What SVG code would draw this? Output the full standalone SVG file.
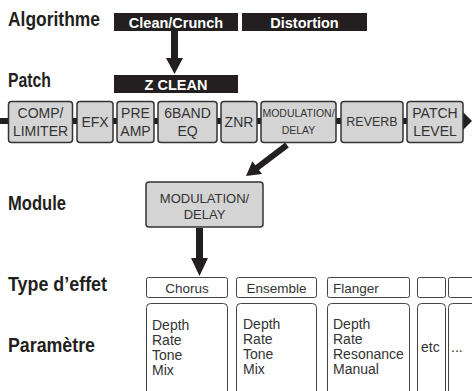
<svg xmlns="http://www.w3.org/2000/svg" width="472" height="391" viewBox="0 0 472 391">
<style>
.lbl{font-family:"Liberation Sans",Arial,sans-serif;font-weight:bold;font-size:19.5px;fill:#231f20}
.bar{fill:#231f20}
.bart{font-family:"Liberation Sans",Arial,sans-serif;font-weight:bold;font-size:14.5px;fill:#fff;text-anchor:middle}
.mod{fill:#d4d4d4;stroke:#333;stroke-width:1.5}
.mt{font-family:"Liberation Sans",Arial,sans-serif;font-size:14px;fill:#333;text-anchor:middle}
.ms{font-size:10.5px}
.tb{fill:#fff;stroke:#444;stroke-width:1}
.tt{font-family:"Liberation Sans",Arial,sans-serif;font-size:13.5px;fill:#333}
.pt{font-family:"Liberation Sans",Arial,sans-serif;font-size:14px;fill:#333}
.arr{fill:#231f20}
</style>
<rect width="472" height="391" fill="#fff"/>
<g id="labels">
<text class="lbl" x="8" y="26" textLength="92" lengthAdjust="spacingAndGlyphs">Algorithme</text>
<text class="lbl" x="8" y="87" textLength="43" lengthAdjust="spacingAndGlyphs">Patch</text>
<text class="lbl" x="8" y="210" textLength="58" lengthAdjust="spacingAndGlyphs">Module</text>
<text class="lbl" x="8" y="291" textLength="99" lengthAdjust="spacingAndGlyphs">Type d’effet</text>
<text class="lbl" x="8" y="352" textLength="87" lengthAdjust="spacingAndGlyphs">Paramètre</text>
</g>
<g id="connectors">
<rect x="0" y="118" width="465" height="6" class="arr"/>
<polygon class="arr" points="463,112 472,121 463,130"/>
<path class="arr" d="M171,31 H178 V58 H183 L174.5,74 L166,58 H171 Z"/>
<polygon class="arr" points="288.8,147.4 259,170 262,174 246,176 252.4,161.2 255.4,165.2 285.2,142.6"/>
<path class="arr" d="M196,228 H203 V258 H208 L199.5,276 L191,258 H196 Z"/>
</g>
<g id="algo-clean">
<rect class="bar" x="114" y="13" width="124" height="18"/>
<text class="bart" x="176" y="27.5">Clean/Crunch</text>
</g>
<g id="algo-dist">
<rect class="bar" x="242" y="13" width="125" height="18"/>
<text class="bart" x="304.5" y="27.5">Distortion</text>
</g>
<g id="patch-zclean">
<rect class="bar" x="114" y="75" width="124" height="18"/>
<text class="bart" x="176" y="89.5">Z CLEAN</text>
</g>
<g id="m-comp">
<rect class="mod" x="8.5" y="101.5" width="64" height="41" rx="3"/>
<text class="mt" x="40.5" y="118">COMP/</text>
<text class="mt" x="40.5" y="136">LIMITER</text>
</g>
<g id="m-efx">
<rect class="mod" x="77" y="101.5" width="36" height="41" rx="3"/>
<text class="mt" x="95" y="127">EFX</text>
</g>
<g id="m-preamp">
<rect class="mod" x="117" y="101.5" width="37" height="41" rx="3"/>
<text class="mt" x="135.5" y="118">PRE</text>
<text class="mt" x="135.5" y="136">AMP</text>
</g>
<g id="m-eq">
<rect class="mod" x="158" y="101.5" width="59" height="41" rx="3"/>
<text class="mt" x="187.5" y="118">6BAND</text>
<text class="mt" x="187.5" y="136">EQ</text>
</g>
<g id="m-znr">
<rect class="mod" x="221" y="101.5" width="36" height="41" rx="3"/>
<text class="mt" x="239" y="127">ZNR</text>
</g>
<g id="m-mod">
<rect class="mod" x="261" y="101.5" width="75" height="41" rx="3"/>
<text class="mt ms" x="298.5" y="117">MODULATION/</text>
<text class="mt ms" x="298.5" y="134">DELAY</text>
</g>
<g id="m-reverb">
<rect class="mod" x="341" y="101.5" width="62" height="41" rx="3"/>
<text class="mt" x="372" y="126" style="font-size:12.5px">REVERB</text>
</g>
<g id="m-level">
<rect class="mod" x="407" y="101.5" width="56" height="41" rx="3"/>
<text class="mt" x="435" y="118">PATCH</text>
<text class="mt" x="435" y="136">LEVEL</text>
</g>
<g id="module-mod">
<rect class="mod" x="146" y="182" width="117" height="45" rx="3"/>
<text class="mt" x="204.5" y="203" style="font-size:13px">MODULATION/</text>
<text class="mt" x="204.5" y="219" style="font-size:13px">DELAY</text>
</g>
<g id="t-chorus">
<rect class="tb" x="146.5" y="277.5" width="81" height="20" rx="2"/>
<text class="tt" x="187" y="293" text-anchor="middle">Chorus</text>
</g>
<g id="t-ensemble">
<rect class="tb" x="236.5" y="277.5" width="80" height="20" rx="2"/>
<text class="tt" x="276.5" y="293" text-anchor="middle">Ensemble</text>
</g>
<g id="t-flanger">
<rect class="tb" x="327.5" y="277.5" width="82" height="20" rx="2"/>
<text class="tt" x="333" y="293">Flanger</text>
</g>
<g id="t-etc">
<rect class="tb" x="417.5" y="277.5" width="28" height="20" rx="2"/>
</g>
<g id="t-more">
<rect class="tb" x="448.5" y="277.5" width="30" height="20" rx="2"/>
</g>
<g id="p-chorus">
<rect class="tb" x="146.5" y="303.5" width="81" height="92" rx="4"/>
<text class="pt" x="152" y="330">Depth</text>
<text class="pt" x="152" y="345">Rate</text>
<text class="pt" x="152" y="360">Tone</text>
<text class="pt" x="152" y="375">Mix</text>
</g>
<g id="p-ensemble">
<rect class="tb" x="236.5" y="303.5" width="80" height="92" rx="4"/>
<text class="pt" x="243" y="329">Depth</text>
<text class="pt" x="243" y="344">Rate</text>
<text class="pt" x="243" y="359">Tone</text>
<text class="pt" x="243" y="374">Mix</text>
</g>
<g id="p-flanger">
<rect class="tb" x="327.5" y="303.5" width="82" height="92" rx="4"/>
<text class="pt" x="333" y="329">Depth</text>
<text class="pt" x="333" y="344">Rate</text>
<text class="pt" x="333" y="359">Resonance</text>
<text class="pt" x="333" y="374">Manual</text>
</g>
<g id="p-etc">
<rect class="tb" x="417.5" y="303.5" width="28" height="92" rx="4"/>
<text class="pt" x="421" y="352">etc</text>
</g>
<g id="p-more">
<rect class="tb" x="448.5" y="303.5" width="30" height="92" rx="4"/>
<text class="pt" x="451" y="352">...</text>
</g>
</svg>
